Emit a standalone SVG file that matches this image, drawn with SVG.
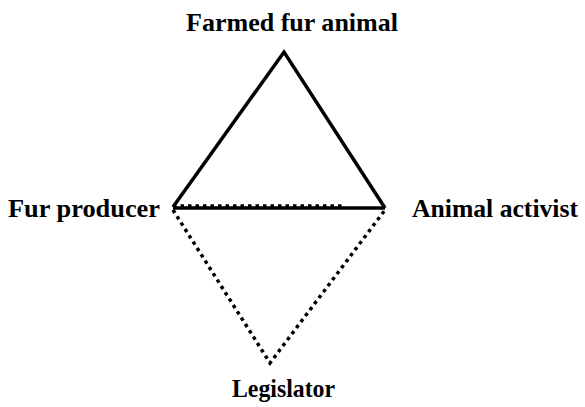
<svg xmlns="http://www.w3.org/2000/svg" width="585" height="407" viewBox="0 0 585 407">
<defs>
<style>
.solid{fill:none;stroke:#000;stroke-width:3.5;stroke-linejoin:miter}
.dot{fill:none;stroke:#000;stroke-width:3.5;stroke-dasharray:3.5 4}
text.lbl{font-family:'Liberation Serif',serif !important;font-weight:bold;font-size:25px;fill:#000}
</style>
</defs>
<rect width="585" height="407" fill="#fff"/>
<g id="connectors">
<polyline class="solid" points="173,207 284,52 385,208"/>
<line class="solid" x1="173" y1="208" x2="385" y2="208"/>
<line class="dot" x1="173" y1="206" x2="345" y2="206" stroke-width="1.5"/>
<polyline class="dot" points="173,210 270,363 385,210"/>
</g>
<g id="n-animal"><text class="lbl" x="186" y="31" textLength="212" lengthAdjust="spacingAndGlyphs">Farmed fur animal</text></g>
<g id="n-producer"><text class="lbl" x="8" y="217" textLength="152" lengthAdjust="spacingAndGlyphs">Fur producer</text></g>
<g id="n-activist"><text class="lbl" x="412" y="217" textLength="166" lengthAdjust="spacingAndGlyphs">Animal activist</text></g>
<g id="n-legislator"><text class="lbl" x="232" y="397" textLength="103" lengthAdjust="spacingAndGlyphs">Legislator</text></g>
</svg>
